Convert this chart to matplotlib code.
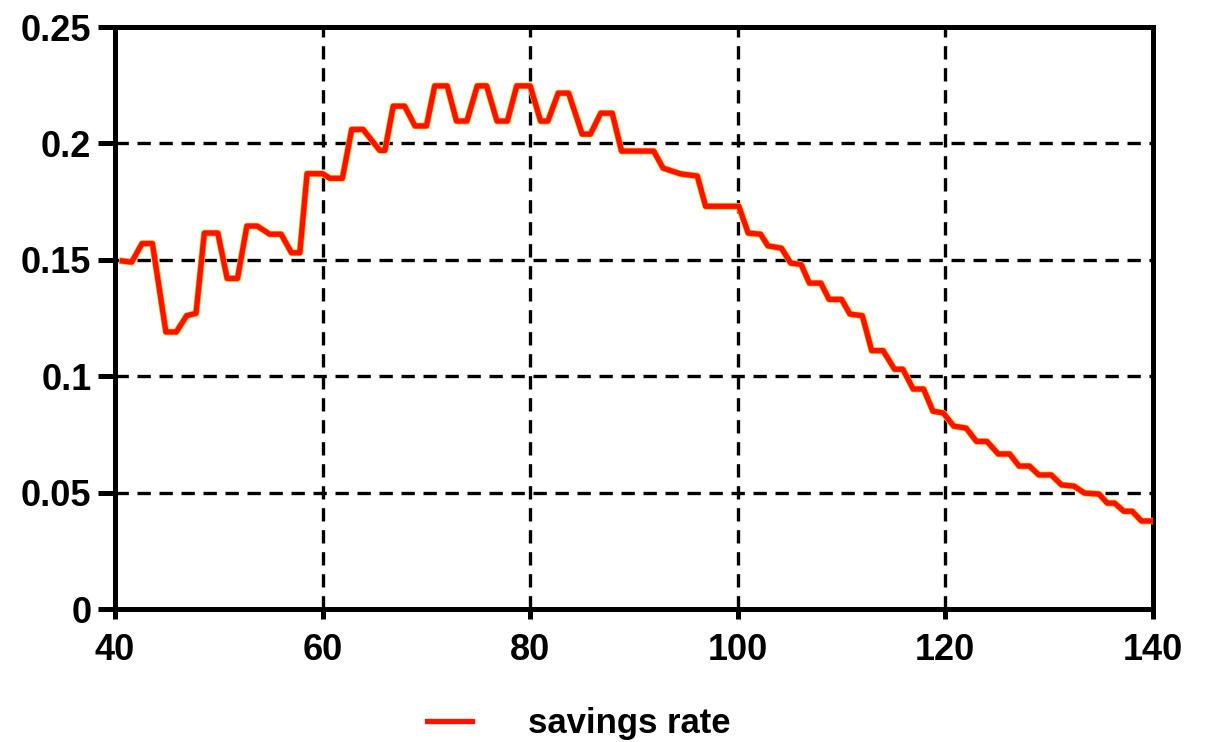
import numpy as np
import matplotlib
matplotlib.use("Agg")
import matplotlib.pyplot as plt

# savings rate
age = [40.7, 41.6, 42.6, 43.6, 44.9, 45.9, 46.9, 47.8, 48.6, 49.9, 50.8, 51.8,
       52.7, 53.7, 54.9, 56.0, 57.0, 57.8, 58.5, 60.0, 60.7, 61.9, 62.8, 63.9,
       65.5, 66.0, 66.8, 67.9, 68.9, 70.0, 70.8, 72.0, 72.9, 73.9, 74.9, 75.8,
       76.8, 77.8, 78.7, 80.0, 81.0, 81.7, 82.7, 83.7, 85.0, 85.8, 86.8, 87.9,
       88.8, 91.9, 92.8, 94.5, 96.1, 96.9, 100.1, 101.0, 102.2, 102.9, 104.2,
       105.1, 106.1, 106.9, 108.0, 108.8, 110.0, 110.8, 112.0, 112.9, 114.0,
       115.1, 115.9, 116.9, 117.9, 118.8, 119.8, 120.8, 122.0, 123.0, 124.0,
       125.1, 126.2, 127.1, 128.1, 129.0, 130.2, 131.2, 132.4, 133.4, 134.8,
       135.6, 136.3, 137.2, 138.0, 138.9, 139.9]
rate = [0.1495, 0.149, 0.157, 0.157, 0.119, 0.119, 0.126, 0.127, 0.1615, 0.1615,
        0.142, 0.142, 0.1645, 0.1645, 0.161, 0.161, 0.153, 0.153, 0.187, 0.187,
        0.185, 0.185, 0.206, 0.206, 0.197, 0.197, 0.216, 0.216, 0.2075, 0.2075,
        0.2247, 0.2247, 0.2096, 0.2096, 0.2247, 0.2247, 0.2096, 0.2096, 0.2247,
        0.2247, 0.2096, 0.2096, 0.2216, 0.2216, 0.204, 0.204, 0.213, 0.213,
        0.1967, 0.1967, 0.1894, 0.1869, 0.186, 0.173, 0.173, 0.1615, 0.161,
        0.156, 0.155, 0.1486, 0.148, 0.140, 0.140, 0.133, 0.133, 0.1267, 0.126,
        0.111, 0.111, 0.103, 0.103, 0.0945, 0.0945, 0.085, 0.0842, 0.0786,
        0.0777, 0.072, 0.072, 0.0666, 0.0666, 0.0614, 0.0614, 0.0576, 0.0576,
        0.0533, 0.0528, 0.0498, 0.0494, 0.0455, 0.0455, 0.042, 0.042, 0.0378,
        0.0378]

xticks = [40, 60, 80, 100, 120, 140]
yticks = [0, 0.05, 0.1, 0.15, 0.2, 0.25]
ytick_labels = ["0", "0.05", "0.1", "0.15", "0.2", "0.25"]

matplotlib.rcParams['font.family'] = ['Liberation Sans', 'DejaVu Sans']
matplotlib.rcParams['font.weight'] = 'bold'

fig = plt.figure(figsize=(12.06, 7.42), dpi=100)
ax = fig.add_axes([0.0954, 0.1792, 0.956 - 0.0954, 0.9636 - 0.1792])

ax.plot(age, rate, color='#ffc000', lw=4.8, solid_joinstyle='round', zorder=3)
ax.plot(age, rate, color='#ff1000', lw=3.8, solid_joinstyle='round', zorder=4,
        label='savings rate')

ax.set_xlim(40, 140)
ax.set_ylim(0, 0.25)
ax.set_xticks(xticks)
ax.set_yticks(yticks)
ax.set_yticklabels(ytick_labels)

ax.grid(True, color='black', lw=2.4, linestyle=(0, (4, 2.6)))
ax.set_axisbelow(True)
for s in ax.spines.values():
    s.set_linewidth(3.6)
ax.tick_params(axis='both', width=3.6, length=12, labelsize=26, pad=5)
ax.tick_params(axis='x', length=7, pad=10)

leg = fig.legend(loc='lower center', bbox_to_anchor=(0.48, -0.04), frameon=False,
                 fontsize=25, handlelength=1.3, handletextpad=1.6)

plt.savefig("out.png", dpi=100)
